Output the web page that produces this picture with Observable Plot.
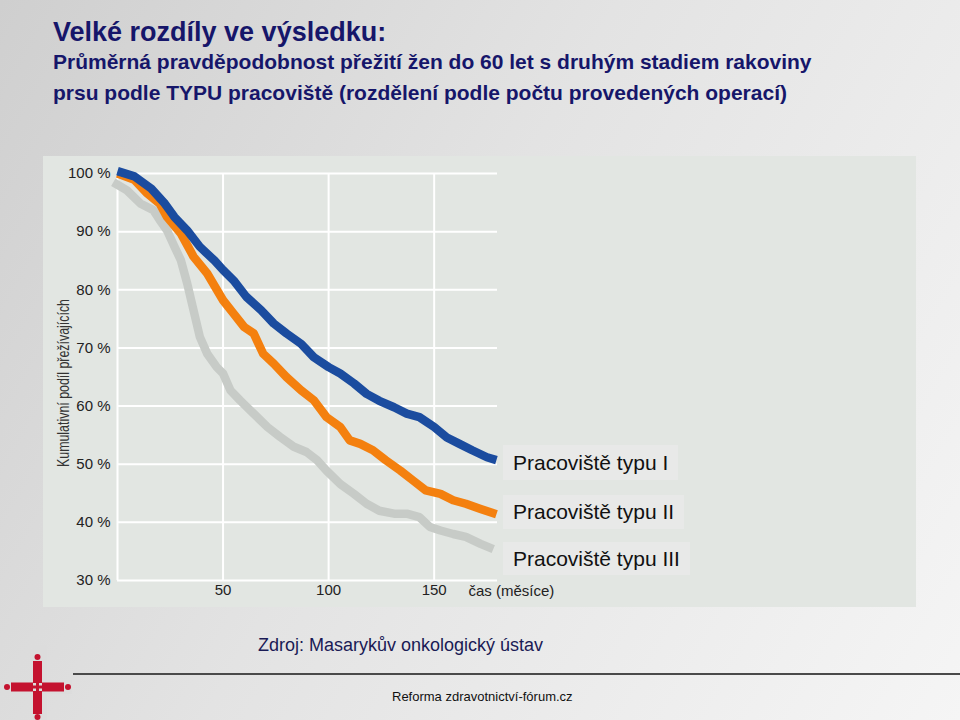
<!DOCTYPE html>
<html>
<head>
<meta charset="utf-8">
<script src="https://cdn.jsdelivr.net/npm/d3@7"></script>
<script src="https://cdn.jsdelivr.net/npm/@observablehq/plot@0.6"></script>
<style>
  html, body { margin: 0; padding: 0; }
  body { width: 960px; height: 720px; overflow: hidden; font-family: "Liberation Sans", Arial, sans-serif; }
  #page { position: relative; width: 960px; height: 720px;
    background: linear-gradient(120deg, #cfcfcf 0%, #e3e3e3 45%, #f5f5f5 100%); }
  .abs { position: absolute; white-space: nowrap; }
  #title { left: 53px; top: 18.8px; font-size: 27px; line-height: 27px; font-weight: bold; color: #16166a; }
  .sub { left: 53px; font-size: 21px; line-height: 21px; font-weight: bold; color: #16166a; }
  #chart { position: absolute; left: 43px; top: 156px; }
  .leg { position: absolute; left: 503px; padding: 0 10px; font-size: 21px; color: #111; background: #e8e9e8; }
  #src { left: 258px; top: 635.8px; font-size: 18px; line-height: 18px; color: #1a1a55; }
  #foot { left: 392px; top: 690px; font-size: 13px; line-height: 13px; color: #111; }
  #rule { position: absolute; left: 73px; top: 673px; width: 887px; height: 2px; background: #4a4a4a; }
</style>
</head>
<body>
<div id="page">
  <div id="title" class="abs">Velké rozdíly ve výsledku:</div>
  <div class="abs sub" style="top:51.2px">Průměrná pravděpodobnost přežití žen do 60 let s druhým stadiem rakoviny</div>
  <div class="abs sub" style="top:81.7px">prsu podle TYPU pracoviště (rozdělení podle počtu provedených operací)</div>
  <div id="chart"></div>
  <div id="src" class="abs">Zdroj: Masarykův onkologický ústav</div>
  <div id="rule"></div>
  <div id="foot" class="abs">Reforma zdravotnictví-fórum.cz</div>
  <svg id="logo" width="75" height="80" style="position:absolute;left:0;top:640px">
    <rect x="33" y="5" width="14" height="75" fill="#dcdcdc" opacity="0.7"/>
    <rect x="2" y="40" width="70" height="14" fill="#dcdcdc" opacity="0.7"/>
    <circle cx="37.5" cy="17" r="3" fill="#c4122f"/>
    <rect x="33" y="21" width="9" height="22" fill="#c4122f"/>
    <rect x="33" y="51" width="9" height="23" fill="#c4122f"/>
    <circle cx="37.5" cy="77" r="3" fill="#c4122f"/>
    <circle cx="7" cy="47" r="3" fill="#c4122f"/>
    <rect x="11" y="42.5" width="22" height="9" fill="#c4122f"/>
    <rect x="42" y="42.5" width="22" height="9" fill="#c4122f"/>
    <circle cx="68" cy="47" r="3" fill="#c4122f"/>
    <rect x="36" y="40" width="3" height="14" fill="#c4122f"/>
    <rect x="30" y="45.5" width="15" height="3" fill="#c4122f"/>
  </svg>
  <svg id="ytitle" width="60" height="240" style="position:absolute;left:30px;top:263px;overflow:visible"></svg>
</div>
<script>
// ---- data ----
const seriesNames = ["Pracoviště typu I", "Pracoviště typu II", "Pracoviště typu III"];
const seriesColors = ["#1b4c9f", "#f4800f", "#c7cbc7"];

const typeIMonths = [0, 8, 16, 22, 27, 33, 39, 46, 50, 55, 61, 68, 74, 80, 87, 93, 100, 105.5, 112, 118, 124, 131, 137, 143, 150, 156, 162, 168, 175, 179.5];
const typeIValues = [100.4, 99.5, 97.4, 95, 92.5, 90.2, 87.4, 85, 83.4, 81.6, 78.8, 76.5, 74.2, 72.5, 70.7, 68.4, 66.7, 65.6, 63.9, 62.1, 60.9, 59.8, 58.7, 58.1, 56.4, 54.6, 53.5, 52.4, 51.2, 50.7];

const typeIIMonths = [0, 8, 14, 20, 23.5, 30, 36, 42.5, 50, 55, 60, 64.5, 69, 74, 80, 87, 93, 99, 105.5, 110, 115, 121, 127, 134, 140, 146, 153, 159, 165, 172, 179.5];
const typeIIValues = [100, 98.9, 96.6, 94.8, 92.5, 89.7, 85.7, 82.8, 78.2, 75.9, 73.6, 72.5, 69, 67.3, 65, 62.7, 61, 58.1, 56.4, 54.1, 53.5, 52.4, 50.7, 48.9, 47.2, 45.5, 44.9, 43.8, 43.2, 42.3, 41.4];

const typeIIIMonths = [-2, 4.5, 11, 17, 20, 23.5, 27, 30, 33, 36, 39, 42.5, 47, 50, 53.5, 58, 64.5, 71, 77, 83.5, 89.5, 94.5, 99, 105.5, 112, 118, 124, 131, 137, 143, 148, 153, 159, 165, 172, 178];
const typeIIIValues = [98.5, 97.1, 94.8, 93.7, 92, 90.2, 87.4, 85.1, 81.1, 76.5, 71.9, 69, 66.7, 65.6, 62.7, 61, 58.7, 56.4, 54.7, 53, 52.1, 50.7, 48.9, 46.6, 44.9, 43.2, 42, 41.5, 41.5, 40.9, 39.2, 38.6, 38, 37.5, 36.3, 35.4];

const yTicks = [30, 40, 50, 60, 70, 80, 90, 100];
const xTicks = [50, 100, 150];
const xLabel = "čas (měsíce)";
const yLabel = "Kumulativní podíl přežívajících";

// ---- table (drawn gray first so blue sits on top) ----
const rows = [];
[[typeIIIMonths, typeIIIValues, seriesNames[2]],
 [typeIIMonths, typeIIValues, seriesNames[1]],
 [typeIMonths, typeIValues, seriesNames[0]]].forEach(([xs, ys, name]) => {
  xs.forEach((m, i) => rows.push({series: name, month: m, value: ys[i]}));
});

const plot = Plot.plot({
  width: 873, height: 451,
  marginLeft: 74, marginRight: 419, marginTop: 17, marginBottom: 27,
  style: {background: "#e2e6e2", fontFamily: "'Liberation Sans', Arial, sans-serif", fontSize: "15px", color: "#222", overflow: "visible"},
  x: {domain: [0, 180]},
  y: {domain: [30, 100]},
  color: {domain: seriesNames, range: seriesColors},
  marks: [
    Plot.gridY(yTicks, {stroke: "white", strokeOpacity: 1, strokeWidth: 2}),
    Plot.gridX(xTicks, {stroke: "white", strokeOpacity: 1, strokeWidth: 2}),
    Plot.ruleX([0], {stroke: "white", strokeWidth: 2}),
    Plot.line(rows, {x: "month", y: "value", z: "series", stroke: "#555", strokeOpacity: 0.35, strokeWidth: 10, dx: -1, dy: 6, ariaLabel: "shadow"}),
    Plot.line(rows, {x: "month", y: "value", z: "series", stroke: "series", strokeWidth: 8.5, strokeLinejoin: "round", strokeLinecap: "butt"}),
    Plot.axisY({ticks: yTicks, tickSize: 0, tickPadding: 7, tickFormat: d => d + " %", label: null, fill: "#222"}),
    Plot.axisX({ticks: xTicks, tickSize: 0, tickPadding: 4, label: null, fill: "#222"}),
    Plot.text([xLabel], {frameAnchor: "bottom-right", textAnchor: "start", lineAnchor: "middle", dx: -29, dy: 11, fill: "#222"})
  ]
});
document.getElementById("chart").appendChild(plot);
d3.select(plot).selectAll('g[aria-label="shadow"]').style("filter", "blur(3px)");

// legend labels
const legTops = [445, 495, 542];
const legHeights = [35, 34, 33];
const page = document.getElementById("page");
seriesNames.forEach((name, i) => {
  const d = document.createElement("div");
  d.className = "leg";
  d.style.top = legTops[i] + "px";
  d.style.height = legHeights[i] + "px";
  d.style.lineHeight = legHeights[i] + "px";
  d.textContent = name;
  page.appendChild(d);
});

// rotated y-axis title (condensed, like the reference)
d3.select("#ytitle").append("text")
  .attr("transform", "translate(39,120) rotate(-90)")
  .attr("text-anchor", "middle")
  .attr("textLength", 168)
  .attr("lengthAdjust", "spacingAndGlyphs")
  .attr("font-family", "'Liberation Sans', Arial, sans-serif")
  .attr("font-size", 16)
  .attr("fill", "#333")
  .text(yLabel);
</script>
</body>
</html>
